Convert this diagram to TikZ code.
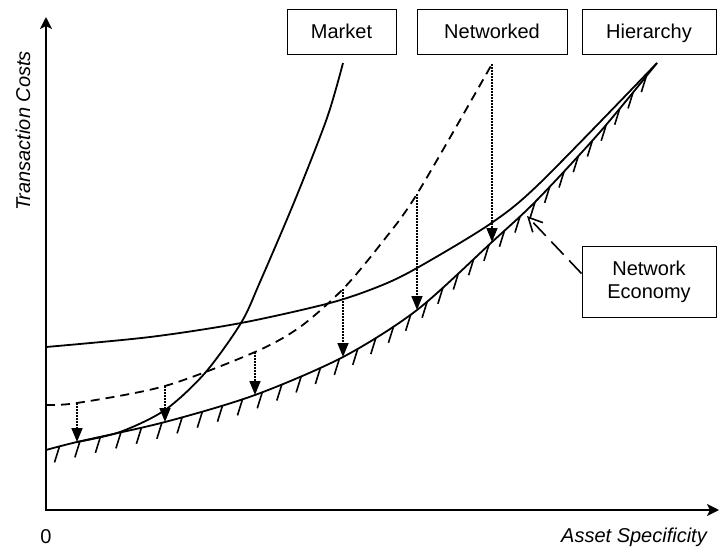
\documentclass[tikz,border=0pt]{standalone}
\usepackage{fontspec}
\setmainfont{Liberation Sans}
\usetikzlibrary{arrows.meta,decorations.markings}
\begin{document}
\begin{tikzpicture}[x=1pt,y=-1pt,
  lbl/.style={font=\fontsize{20}{23}\selectfont, inner sep=0pt},
  ilbl/.style={font=\fontsize{20}{23}\selectfont\itshape, inner sep=0pt},
  box/.style={draw, line width=1pt, inner sep=0pt, align=center, font=\fontsize{20}{23}\selectfont},
  oneline/.style={text height=14.3pt, text depth=0pt, minimum height=45pt},
  curve/.style={line width=1.8pt, line join=round},
  netdash/.style={dash pattern=on 9pt off 6pt},
  guide/.style={line width=1.6pt, dash pattern=on 1.5pt off 1.5pt, -{Triangle[length=14pt,width=11pt]}},
  axis/.style={line width=1.8pt, line join=miter, {Stealth[length=12pt,width=12pt,inset=3pt]}-{Stealth[length=12pt,width=12pt,inset=3pt]}},
  pointer/.style={line width=1.6pt, dash pattern=on 18pt off 8pt, -{Straight Barb[length=14pt,width=14pt]}},
  hatch/.style={postaction={decorate}, decoration={markings, mark=between positions 14pt and 0.99 step 21pt with {\pgftransformresetnontranslations\draw[line width=1.6pt, solid] (0pt,0pt) -- (-5pt,-16pt);}}}
]
\useasboundingbox (0,0) rectangle (720,552);

% axes
\coordinate (O) at (46,510);
\coordinate (ytop) at (46,17);
\coordinate (xend) at (719,510);
\draw[axis] (ytop) -- (O) -- (xend);

% axis labels
\node[ilbl, rotate=90] (ylab) at (23,131) {Transaction Costs};
\node[lbl] (zero) at (46,537) {0};
\node[ilbl, anchor=east] (xlab) at (707,537) {Asset Specificity};

% boxes
\node[box, oneline, minimum width=109pt] (market) at (341.5,31.5) {Market};
\node[box, oneline, minimum width=150pt] (networked) at (492,31.5) {Networked};
\node[box, oneline, minimum width=134pt] (hierarchy) at (649,31.5) {Hierarchy};
\node[box, minimum width=134pt, minimum height=71pt] (ne) at (649,281.5) {Network\\Economy};

% hierarchy curve
\draw[curve] plot[smooth] coordinates {(46,347) (150,337) (241,323) (330,303) (380,286) (417,268) (490,224) (540,183) (657,63)};

% network economy curve (hatched)
\draw[curve, hatch] plot[smooth] coordinates {(46,450) (77,442) (165,422) (255,395) (343,357) (417,310) (492,242) (537,200) (600,132) (657,63)};

% networked curve (dashed)
\draw[curve, netdash] plot[smooth] coordinates {(46,405) (77,403) (165,386) (255,352) (300,327) (343,289) (380,245) (417,194) (492,64)};

% market curve
\draw[curve] plot[smooth] coordinates {(77,442) (120,432) (165,410) (205,373) (241,323) (260,282) (295,200) (327,118) (343,63)};

% dotted reduction arrows
\coordinate (a1s) at (77,403);  \coordinate (a1e) at (77,442);
\coordinate (a2s) at (165,386); \coordinate (a2e) at (165,422);
\coordinate (a3s) at (255,352); \coordinate (a3e) at (255,395);
\coordinate (a4s) at (343,289); \coordinate (a4e) at (343,357);
\coordinate (a5s) at (417,194); \coordinate (a5e) at (417,310);
\coordinate (a6s) at (492,64);  \coordinate (a6e) at (492,242);
\draw[guide] (a1s) -- (a1e);
\draw[guide] (a2s) -- (a2e);
\draw[guide] (a3s) -- (a3e);
\draw[guide] (a4s) -- (a4e);
\draw[guide] (a5s) -- (a5e);
\draw[guide] (a6s) -- (a6e);

% pointer from Network Economy box
\coordinate (nes) at ([yshift=8pt]ne.west);
\coordinate (net) at (527,216);
\draw[pointer] (nes) -- (net);
\end{tikzpicture}
\end{document}
